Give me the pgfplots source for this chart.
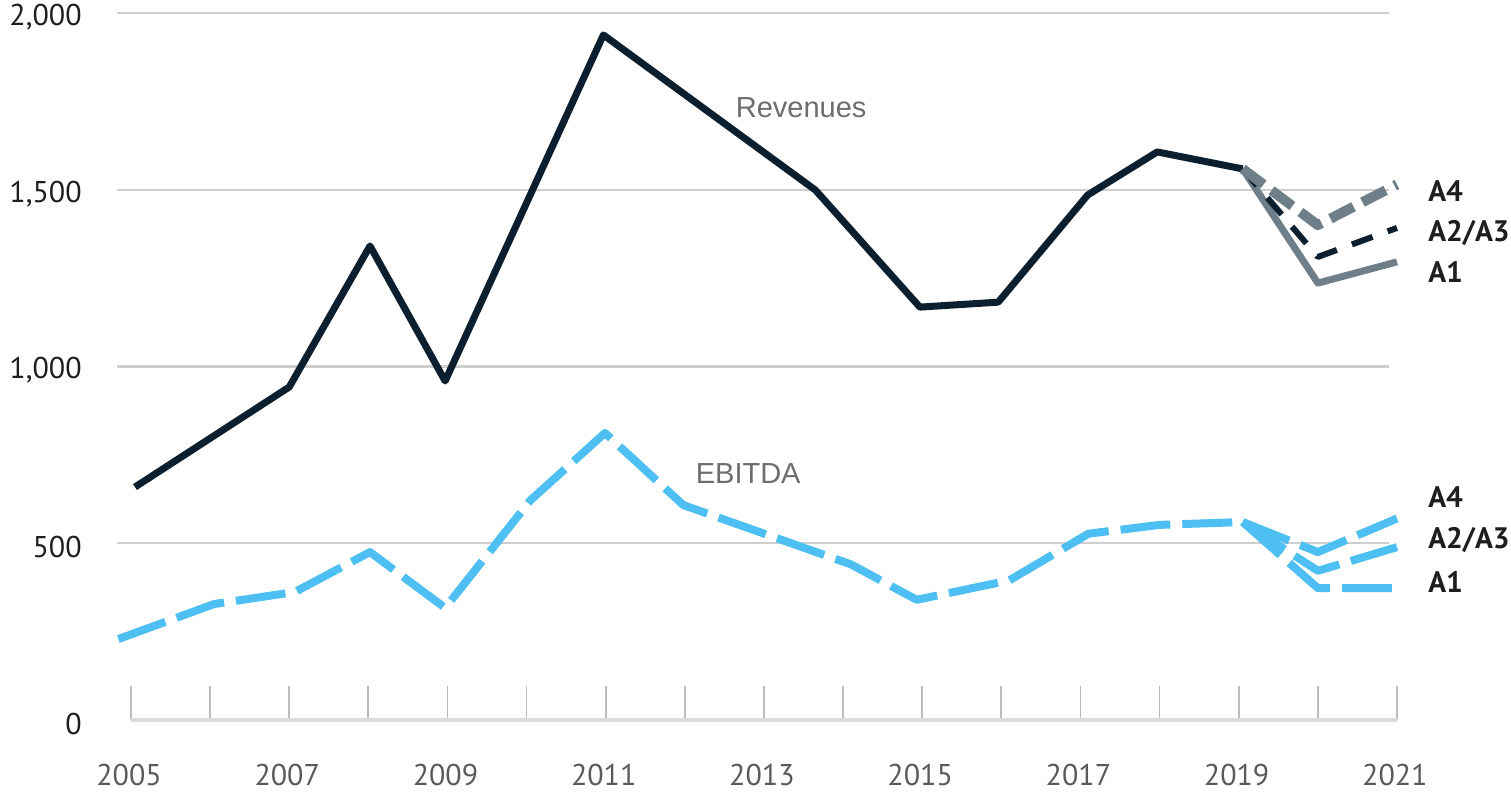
\documentclass[border=0pt]{standalone}
\usepackage{pgfplots}
\pgfplotsset{compat=1.18}
\usepackage{fontspec}
\setmainfont{PT Sans}
\newfontfamily\arialf{Liberation Sans}
\definecolor{navy}{HTML}{0B1F2F}
\definecolor{ebit}{HTML}{4DBFF2}
\definecolor{scen}{HTML}{6E7F89}
\definecolor{gridc}{HTML}{CFCFCF}
\definecolor{basec}{HTML}{DCDCDC}
\definecolor{tickc}{HTML}{BDBDBD}
\definecolor{ticklab}{HTML}{5A5A5A}
\definecolor{lab}{HTML}{1E1E1E}
\definecolor{serlab}{HTML}{6D6D6D}

\begin{document}
\begin{tikzpicture}
\begin{axis}[
 scale only axis, width=633pt, height=353.5pt,
 xmin=2005, xmax=2021, ymin=0, ymax=2000,
 clip=false,
 axis x line*=bottom, axis y line*=left,
 x axis line style={draw=basec, line width=2pt},
 y axis line style={draw=none},
 xtick={2005,...,2021},
 xticklabels={2005,,2007,,2009,,2011,,2013,,2015,,2017,,2019,,2021},
 tick align=inside,
 major tick length=17pt,
 xtick style={draw=tickc, line width=0.9pt},
 ytick style={draw=none},
 ytick={0,500,1000,1500,2000},
 yticklabels={0,500,{1,000},{1,500},{2,000}},
 xticklabel style={anchor=center, yshift=-27.5pt, xshift=-1pt, font=\fontsize{15}{18}\selectfont, text=ticklab},
 yticklabel style={anchor=east, inner sep=0pt, xshift=-24.5pt, yshift=-2pt, font=\fontsize{15}{18}\selectfont, text=lab},
]
% grid lines
\draw[gridc, line width=1.25pt] (axis cs:2004.823,500) -- (axis cs:2020.899,500);
\draw[gridc, line width=1.25pt] (axis cs:2004.823,1000) -- (axis cs:2020.899,1000);
\draw[gridc, line width=1.25pt] (axis cs:2004.823,1500) -- (axis cs:2020.899,1500);
\draw[gridc, line width=1.25pt] (axis cs:2004.823,2000) -- (axis cs:2020.899,2000);

% EBITDA
\addplot[ebit, line width=4pt, dash pattern=on 25pt off 6pt, line join=round] coordinates {
 (2004.84,229) (2006.05,328) (2007.07,362) (2008.02,475) (2008.97,317) (2010.05,622)
 (2010.99,812) (2011.98,608) (2014.1,440) (2014.93,340) (2016.1,395) (2017.1,527)
 (2018,552) (2019.05,560)};
\addplot[ebit, line width=4pt, dash pattern=on 25pt off 6pt, line join=round] coordinates {(2019.05,560) (2020,373) (2021,373)};
\addplot[ebit, line width=4pt, dash pattern=on 25pt off 6pt, line join=round] coordinates {(2019.05,560) (2020,422) (2021,489)};
\addplot[ebit, line width=4pt, dash pattern=on 25pt off 6pt, line join=round] coordinates {(2019.05,560) (2020,475) (2021,570)};

% Revenues
\addplot[navy, line width=3.5pt, line join=round] coordinates {
 (2005.05,659) (2007,942) (2008.02,1341) (2008.97,959) (2010.97,1938) (2013.65,1499)
 (2014.97,1168) (2015.96,1182) (2017.09,1485) (2017.97,1607) (2019.05,1559)};
\addplot[scen, line width=3.5pt, line join=round] coordinates {(2019.05,1559) (2020,1236) (2021,1296)};
\addplot[navy, line width=3pt, dash pattern=on 11pt off 8pt, line join=round] coordinates {(2019.05,1559) (2020,1310) (2021,1392)};
\addplot[scen, line width=5pt, dash pattern=on 13pt off 5pt, line join=round] coordinates {(2019.05,1559) (2020,1400) (2021,1515)};

% series labels
\node[font=\arialf\fontsize{14.5}{17}\selectfont, text=serlab] at (axis cs:2013.47,1731) {Revenues};
\node[font=\arialf\fontsize{14.5}{17}\selectfont, text=serlab] at (axis cs:2012.80,696) {EBITDA};

% scenario labels
\node[anchor=west, inner sep=0pt, font=\bfseries\fontsize{14.8}{16}\selectfont, text=lab] at (axis cs:2021.39,1496) {A4};
\node[anchor=west, inner sep=0pt, font=\bfseries\fontsize{14.8}{16}\selectfont, text=lab] at (axis cs:2021.39,1378) {A2/A3};
\node[anchor=west, inner sep=0pt, font=\bfseries\fontsize{14.8}{16}\selectfont, text=lab] at (axis cs:2021.39,1267) {A1};
\node[anchor=west, inner sep=0pt, font=\bfseries\fontsize{14.8}{16}\selectfont, text=lab] at (axis cs:2021.39,631) {A4};
\node[anchor=west, inner sep=0pt, font=\bfseries\fontsize{14.8}{16}\selectfont, text=lab] at (axis cs:2021.39,509) {A2/A3};
\node[anchor=west, inner sep=0pt, font=\bfseries\fontsize{14.8}{16}\selectfont, text=lab] at (axis cs:2021.39,390) {A1};

\coordinate (bbl) at (axis cs:2003.344,-203.7);
\coordinate (btr) at (axis cs:2022.441,2036.8);
\end{axis}
\pgfresetboundingbox
\path[use as bounding box] (bbl) rectangle (btr);
\end{tikzpicture}
\end{document}
